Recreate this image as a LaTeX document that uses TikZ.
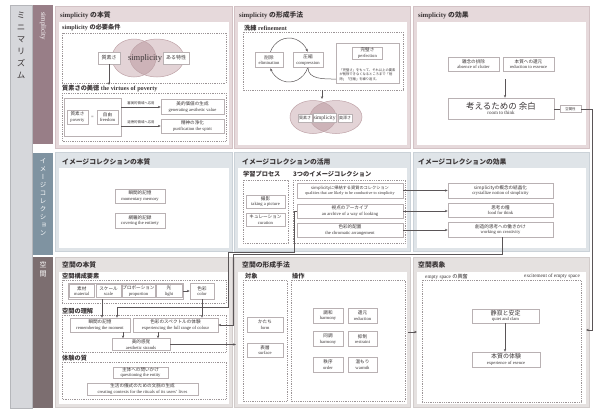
\documentclass[tikz,border=0pt]{standalone}
\usepackage{fontspec}
\setmainfont{Liberation Serif}
\newfontfamily\jp{Noto Sans CJK JP}
\newfontfamily\jpv[RawFeature=+vert]{Noto Sans CJK JP}
\XeTeXlinebreaklocale "ja"
\usetikzlibrary{arrows.meta,calc}

\definecolor{ink}{HTML}{3A3536}
\definecolor{boxline}{HTML}{B9B1B3}
\definecolor{dotline}{HTML}{9C9597}
\definecolor{conn}{HTML}{5A5557}
\definecolor{minibg}{HTML}{D6D7DB}
\definecolor{minibd}{HTML}{B5B6BA}
\definecolor{simband}{HTML}{987E87}
\definecolor{imgband}{HTML}{7F93A1}
\definecolor{spcband}{HTML}{7C6E70}
\definecolor{simbg}{HTML}{E6D9DB}
\definecolor{simbd}{HTML}{D3C2C5}
\definecolor{imgbg}{HTML}{DFE4E8}
\definecolor{imgbd}{HTML}{CBD2D8}
\definecolor{spcbg}{HTML}{E5E1E0}
\definecolor{spcbd}{HTML}{D2CCCB}
\definecolor{vennA}{HTML}{E3D3D6}
\definecolor{vennB}{HTML}{CDB3B8}
\definecolor{vennL}{HTML}{BFA3A8}

% two-line box text: Japanese over English
\newcommand\bt[2]{{\jp #1}\\#2}
\newcommand\fsbox{\fontsize{4.6}{5.6}\selectfont}
\newcommand\fsttl{\fontsize{6.8}{8}\selectfont\bfseries}
\newcommand\fslbl{\fontsize{6.2}{7}\selectfont\bfseries}

\tikzset{
  bx/.style={draw=boxline, fill=white, line width=0.5pt, inner sep=0.5pt,
    align=center, font=\fsbox, text=ink},
  dbox/.style={draw=dotline, line width=0.45pt, dash pattern=on 0.9pt off 0.9pt},
  lbl/.style={anchor=west, font=\fslbl, text=ink, inner sep=0},
  ttl/.style={anchor=west, font=\fsttl, text=ink, inner sep=0},
  vt/.style={anchor=north, align=center, inner sep=0},
  con/.style={draw=conn, line width=0.5pt},
  arr/.style={con, -{Stealth[length=2.8pt,width=2.3pt]}},
  tiny/.style={font=\jp\fontsize{3.4}{4}\selectfont, text=ink, inner sep=0},
}

\begin{document}
\begin{tikzpicture}[x=1pt,y=-1pt]
\useasboundingbox (0,0) rectangle (595,408);
\fill[white] (0,0) rectangle (595,408);

% ---------- side bands ----------
\filldraw[fill=minibg, draw=minibd, line width=0.5pt] (10,5) rectangle (32,408);
\node[vt, font=\jpv\fontsize{8.5}{12}\selectfont, text=ink] (mini) at (21,12)
  {ミ\\ニ\\マ\\リ\\ズ\\ム};
\fill[simband] (33,5) rectangle (53,144);
\node[rotate=-90, anchor=west, font=\fontsize{7}{8}\selectfont, text=white, inner sep=0]
  (bandS) at (43,12) {simplicity};
\fill[imgband] (33,153) rectangle (53,255);
\node[vt, font=\jpv\fontsize{6.5}{8}\selectfont, text=white] (bandI) at (43,158)
  {イ\\メ\\ー\\ジ\\コ\\レ\\ク\\シ\\ョ\\ン};
\fill[spcband] (33,257) rectangle (53,408);
\node[vt, font=\jpv\fontsize{7}{9}\selectfont, text=white] (bandK) at (43,261) {空\\間};

% ---------- panels ----------
\filldraw[fill=simbg, draw=simbd, line width=0.5pt] (55,6) rectangle (232,148);
\filldraw[fill=simbg, draw=simbd, line width=0.5pt] (234,6) rectangle (410,148);
\filldraw[fill=simbg, draw=simbd, line width=0.5pt] (413,6) rectangle (589,148);
\fill[white] (59,22) rectangle (229,145);
\fill[white] (238,22) rectangle (407,145);
\fill[white] (417,22) rectangle (586,145);

\filldraw[fill=imgbg, draw=imgbd, line width=0.5pt] (55,152) rectangle (232,251);
\filldraw[fill=imgbg, draw=imgbd, line width=0.5pt] (234,152) rectangle (410,251);
\filldraw[fill=imgbg, draw=imgbd, line width=0.5pt] (413,152) rectangle (589,251);
\fill[white] (59,168) rectangle (229,248);
\fill[white] (238,168) rectangle (407,248);
\fill[white] (417,168) rectangle (586,248);

\filldraw[fill=spcbg, draw=spcbd, line width=0.5pt] (55,257) rectangle (232,407);
\filldraw[fill=spcbg, draw=spcbd, line width=0.5pt] (234,257) rectangle (410,407);
\filldraw[fill=spcbg, draw=spcbd, line width=0.5pt] (413,257) rectangle (589,407);
\fill[white] (59,272) rectangle (229,404);
\fill[white] (238,272) rectangle (407,404);
\fill[white] (417,272) rectangle (586,404);

% panel titles
\node[ttl] (t11) at (60,15) {simplicity {\jp の本質}};
\node[ttl] (t12) at (239,15) {simplicity {\jp の形成手法}};
\node[ttl] (t13) at (418,15) {simplicity {\jp の効果}};
\node[ttl] (t21) at (62,162) {\jp イメージコレクションの本質};
\node[ttl] (t22) at (242,162) {\jp イメージコレクションの活用};
\node[ttl] (t23) at (418,162) {\jp イメージコレクションの効果};
\node[ttl] (t31) at (62,265) {\jp 空間の本質};
\node[ttl] (t32) at (242,265) {\jp 空間の形成手法};
\node[ttl] (t33) at (418,265) {\jp 空間表象};

% ================= simplicity / essence =================
\node[lbl] (l111) at (62,28) {simplicity {\jp の必要条件}};
\draw[dbox] (62,33) rectangle (226,83);
\fill[vennA] (134,58) ellipse [x radius=22, y radius=19];
\fill[vennA] (157,58) ellipse [x radius=27, y radius=19];
\begin{scope}
  \clip (134,58) ellipse [x radius=22, y radius=19];
  \fill[vennB] (157,58) ellipse [x radius=27, y radius=19];
\end{scope}
\draw[vennL, line width=0.5pt] (134,58) ellipse [x radius=22, y radius=19];
\draw[vennL, line width=0.5pt] (157,58) ellipse [x radius=27, y radius=19];
\node[bx, minimum width=22, minimum height=12, font=\jp\fontsize{5}{6}\selectfont] (shisso) at (109,58) {質素さ};
\node[font=\fontsize{8.5}{9}\selectfont, text=ink, inner sep=0] (simp1) at (145,58) {simplicity};
\node[bx, minimum width=26, minimum height=12, font=\jp\fontsize{5}{6}\selectfont] (tokusei) at (176,58) {ある特性};
\coordinate (povarr) at (109,85);
\draw[arr] (shisso.south) -- (povarr);

\node[lbl] (l112) at (62,88.5) {{\jp 質素さの美徳} the virtues of poverty};
\draw[dbox] (62,93) rectangle (226,141);
\node[draw=boxline, line width=0.5pt, minimum width=57, minimum height=38, inner sep=0] (povg) at (92.5,117) {};
\node[bx, minimum width=21, minimum height=14] (pov) at (77.5,117) {\bt{質素さ}{poverty}};
\node[text=ink, font=\fsbox, inner sep=0] (eq) at (92.5,117) {=};
\node[bx, minimum width=21, minimum height=14] (free) at (107.5,117) {\bt{自由}{freedom}};
\node[bx, minimum width=63, minimum height=15] (gen) at (192.5,107) {\bt{美的価値の生成}{generating aesthetic value}};
\node[bx, minimum width=63, minimum height=14] (pur) at (192.5,126) {\bt{精神の浄化}{purification the spirit}};
\draw[arr] (povg.east |- gen.west) -- (gen.west);
\draw[arr] (povg.east |- pur.west) -- (pur.west);
\node[tiny] (lab1) at (141,103) {審美的領域へ応用};
\node[tiny] (lab2) at (141,122) {道徳的領域へ応用};

% ================= simplicity / method =================
\node[lbl] (l121) at (244,28.5) {{\jp 洗練} refinement};
\draw[dbox] (243,32) rectangle (403,90);
\draw[arr] (289,60) ++(200:20 and 22) arc[start angle=200, end angle=338, x radius=20, y radius=22];
\draw[arr] (289,60) ++(20:20 and 22) arc[start angle=20, end angle=158, x radius=20, y radius=22];
\node[bx, minimum width=28, minimum height=15] (elim) at (269,60) {\bt{削除}{elimination}};
\node[bx, minimum width=30, minimum height=15] (comp) at (308,60) {\bt{圧縮}{compression}};
\node[draw=boxline, fill=white, line width=0.5pt, minimum width=63, minimum height=40, inner sep=0] (perf) at (367.5,63) {};
\node[bx, minimum width=30, minimum height=12] (perfl) at (367.5,53) {\bt{完璧さ}{perfection}};
\node[font=\jp\fontsize{3.3}{4.7}\selectfont, text=ink, text width=56, align=left, inner sep=0] (perft) at (367.5,74.5)
  {「完璧さ」をもって、それ以上の要素が削除できなくなるところまで「削除」「圧縮」を繰り返す。};
\coordinate (perfin) at (336,79);
\draw[con] (comp.south) to[out=-90, in=180] (perfin);
\coordinate (refout) at (322,90);
\coordinate (vennin) at (322,99);
\draw[arr] (refout) -- (vennin);
\fill[vennA] (313,117) ellipse [x radius=23, y radius=16.5];
\fill[vennA] (336,117) ellipse [x radius=26, y radius=16.5];
\begin{scope}
  \clip (313,117) ellipse [x radius=23, y radius=16.5];
  \fill[vennB] (336,117) ellipse [x radius=26, y radius=16.5];
\end{scope}
\draw[vennL, line width=0.5pt] (313,117) ellipse [x radius=23, y radius=16.5];
\draw[vennL, line width=0.5pt] (336,117) ellipse [x radius=26, y radius=16.5];
\node[bx, minimum width=14, minimum height=8, font=\jp\fontsize{4}{5}\selectfont] (shisso2) at (305,118) {質素さ};
\node[bx, minimum width=22, minimum height=9, font=\fontsize{5.5}{6}\selectfont] (simp2) at (324.5,118) {simplicity};
\node[bx, minimum width=14, minimum height=8, font=\jp\fontsize{4}{5}\selectfont] (oku) at (345,118) {奥深さ};

% ================= simplicity / effect =================
\node[bx, minimum width=51, minimum height=14] (clut) at (473.5,64) {\bt{雑念の排除}{absence of clutter}};
\node[bx, minimum width=51, minimum height=14] (redu) at (528.5,64) {\bt{本質への還元}{reduction to essence}};
\coordinate (effa) at (505,79);
\node[bx, minimum width=106, minimum height=21, inner sep=1pt] (think) at (501,108.5)
  {{\jp\fontsize{8.5}{10.5}\selectfont 考えるための 余白}\\{\fontsize{5}{6}\selectfont room to think}};
\draw[arr] (effa) -- (effa |- think.north);
\node[bx, minimum width=21, minimum height=7, font=\jp\fontsize{3.4}{4}\selectfont] (kuukan) at (570.5,109) {空間性};
\coordinate (kR) at (592,109);
\coordinate (kD) at (592,330);
\coordinate (p3e) at (586,330);
\draw[con] (think.east |- kuukan.west) -- (kuukan.west);
\draw[arr] (kuukan.east) -- (kR) -- (kD) -- (p3e);

% ================= image collection / essence =================
\node[bx, minimum width=50, minimum height=14] (mom) at (140,196) {\bt{瞬間的記憶}{momentary memory}};
\node[bx, minimum width=50, minimum height=15] (cov) at (140,220.5) {\bt{網羅的記録}{covering the entirety}};

% ================= image collection / use =================
\node[lbl] (l221) at (243,174.5) {\jp 学習プロセス};
\node[lbl] (l222) at (293,174.5) {\jp 3つのイメージコレクション};
\draw[dbox] (243,180) rectangle (288,243);
\draw[dbox] (293,180) rectangle (405,243);
\node[bx, minimum width=39, minimum height=13] (photo) at (265.5,201.5) {\bt{撮影}{taking a picture}};
\node[bx, minimum width=39, minimum height=13] (cura) at (265.5,219.5) {\bt{キュレーション}{curation}};
\node[bx, minimum width=106, minimum height=15, font=\fontsize{4.2}{5.4}\selectfont] (qual) at (350,190.5)
  {\bt{simplicityに帰結する資質のコレクション}{qualities that are likely to be conductive to simplicity}};
\node[bx, minimum width=106, minimum height=14] (arch) at (350,211) {\bt{視点のアーカイブ}{an archive of a way of looking}};
\node[bx, minimum width=106, minimum height=14] (chro) at (350,230) {\bt{色彩的配置}{the chromatic arrangement}};

% ================= image collection / effect =================
\node[bx, minimum width=105, minimum height=15] (crys) at (500.5,190.5) {\bt{simplicityの概念の結晶化}{crystallize notion of simplicity}};
\node[bx, minimum width=105, minimum height=14] (food) at (500.5,210) {\bt{思考の糧}{food for think}};
\node[bx, minimum width=105, minimum height=15] (crea) at (500.5,229.5) {\bt{創造的思考への働きかけ}{working on creativity}};
\draw[arr] (qual.east) -- (crys.west |- qual.east);
\draw[arr] (arch.east) -- (food.west |- arch.east);
\draw[arr] (chro.east) -- (crea.west |- chro.east);

% ================= space / essence =================
\node[lbl] (l311) at (62,276) {\jp 空間構成要素};
\draw[dbox] (62,280) rectangle (226,303);
\node[draw=boxline, line width=0.5pt, minimum width=115, minimum height=16, inner sep=0] (elem) at (125.5,291) {};
\node[bx, minimum width=24.5, minimum height=13] (mat) at (81.75,291) {\bt{素材}{material}};
\node[bx, minimum width=25, minimum height=13] (scl) at (108.5,291) {\bt{スケール}{scale}};
\node[bx, minimum width=31, minimum height=13] (prop) at (138.5,291) {\bt{プロポーション}{proportion}};
\node[bx, minimum width=26, minimum height=13] (lgt) at (169,291) {\bt{光}{light}};
\node[bx, minimum width=24, minimum height=16] (colr) at (202,291) {\bt{色彩}{color}};
\draw[arr] (elem.east) -- (colr.west);

\node[lbl] (l312) at (62,311.5) {\jp 空間の理解};
\draw[dbox] (62,315) rectangle (226,352);
\node[bx, minimum width=60, minimum height=14] (rmom) at (100,325) {\bt{瞬間の記憶}{remembering the moment}};
\node[bx, minimum width=85, minimum height=14] (spec) at (175.5,325) {\bt{色彩のスペクトルの体験}{experiencing the full range of colour}};
\node[bx, minimum width=58, minimum height=12] (aest) at (141,344.5) {\bt{美的感覚}{aesthetic strands}};
\coordinate (ea) at (102,0);
\draw[arr] (elem.south -| ea) -- (rmom.north -| ea);
\draw[arr] (colr.south) -- (spec.north -| colr.south);
\coordinate (ma) at (123,0);
\coordinate (sa) at (158,0);
\draw[arr] (rmom.south -| ma) -- (aest.north -| ma);
\draw[arr] (spec.south -| sa) -- (aest.north -| sa);

\node[lbl] (l313) at (62,358) {\jp 体験の質};
\draw[dbox] (62,362) rectangle (226,399);
\node[bx, minimum width=55, minimum height=11] (ques) at (140.5,372.5) {\bt{主体への問いかけ}{questioning the entity}};
\node[bx, minimum width=111, minimum height=12] (ctx) at (142.5,389) {\bt{生活の儀式のための文脈の生成}{creating contexts for the rituals of its users' lives}};

% connectors from the image collections into space
\coordinate (aa1) at (294,211);
\coordinate (aa2) at (294,252.5);
\coordinate (aa3) at (228,252.5);
\coordinate (aa4) at (228,307);
\coordinate (aa5) at (117,307);
\draw[arr] (arch.west) -- (aa1) -- (aa2) -- (aa3) -- (aa4) -- (aa5) -- (rmom.north -| aa5);
\coordinate (cc1) at (502,254.5);
\coordinate (cc2) at (233,254.5);
\coordinate (cc3) at (233,325);
\draw[arr] (crea.south -| cc1) -- (cc1) -- (cc2) -- (cc3) -- (spec.east |- cc3);
\coordinate (p2w) at (236,344.5);
\draw[arr] (aest.east) -- (p2w);

% ================= space / method =================
\node[lbl] (l321) at (245,276.5) {\jp 対象};
\node[lbl] (l322) at (292,276.5) {\jp 操作};
\draw[dbox] (243,280) rectangle (287,401);
\draw[dbox] (291,280) rectangle (405,401);
\node[bx, minimum width=36, minimum height=15] (form) at (265,324.5) {\bt{かたち}{form}};
\node[bx, minimum width=36, minimum height=14] (surf) at (265,350) {\bt{表層}{surface}};
\node[bx, minimum width=30, minimum height=15] (op1) at (328,315.5) {\bt{調和}{harmony}};
\node[bx, minimum width=29, minimum height=15] (op2) at (362.5,315.5) {\bt{還元}{reduction}};
\node[bx, minimum width=30, minimum height=15] (op3) at (328,339) {\bt{同調}{harmony}};
\node[bx, minimum width=29, minimum height=15] (op4) at (362.5,339) {\bt{抑制}{restraint}};
\node[bx, minimum width=30, minimum height=15] (op5) at (328,364.5) {\bt{秩序}{order}};
\node[bx, minimum width=29, minimum height=15] (op6) at (362.5,364.5) {\bt{温もり}{warmth}};
\coordinate (p2e) at (408,332);
\coordinate (p3w) at (417,332);
\draw[arr] (p2e) -- (p3w);

% ================= space / representation =================
\draw[dbox] (422,280) rectangle (581,402);
\node[lbl, font=\fontsize{5.2}{6}\selectfont] (l331) at (425,276.5) {empty space {\jp の興奮}};
\node[lbl, anchor=east, font=\fontsize{5.2}{6}\selectfont] (l332) at (580,276.5) {excitement of empty space};
\node[bx, minimum width=67, minimum height=14] (quiet) at (505.5,316)
  {{\jp\fontsize{6}{7}\selectfont 静寂と安定}\\quiet and clam};
\node[bx, minimum width=68, minimum height=15] (esse) at (506,359.5)
  {{\jp\fontsize{6}{7}\selectfont 本質の体験}\\experience of esence};
\coordinate (qa) at (505,0);
\draw[arr] (quiet.south -| qa) -- (esse.north -| qa);

\end{tikzpicture}
\end{document}
